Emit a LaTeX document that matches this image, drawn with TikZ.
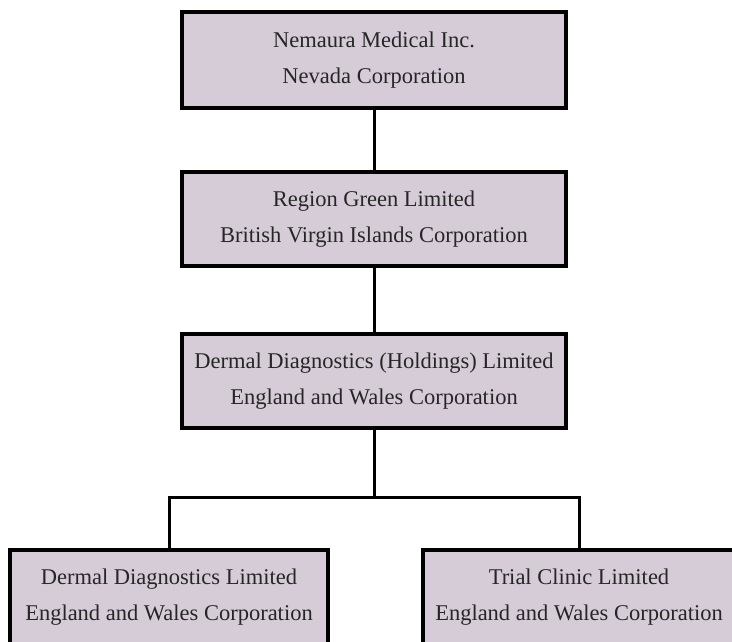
\documentclass[tikz,border=0pt]{standalone}
\usepackage{fontspec}
\setmainfont{Liberation Serif}
\definecolor{boxfill}{RGB}{214,204,216}
\begin{document}
\begin{tikzpicture}[x=1pt,y=-1pt,
  entity/.style={draw=black, line width=4pt, fill=boxfill, align=center,
    inner sep=0pt, font=\fontsize{22.5}{36}\selectfont, text=black!85},
  link/.style={draw=black, line width=3pt}]
\useasboundingbox (0,0) rectangle (732,642);
\clip (0,0) rectangle (732,642);
\node[entity, minimum width=384pt, minimum height=96pt] (n1) at (374,60)
  {Nemaura Medical Inc.\\Nevada Corporation};
\node[entity, minimum width=384pt, minimum height=94pt] (n2) at (374,219)
  {Region Green Limited\\British Virgin Islands Corporation};
\node[entity, minimum width=384pt, minimum height=94pt] (n3) at (374,381)
  {Dermal Diagnostics (Holdings) Limited\\England and Wales Corporation};
\node[entity, minimum width=318pt, minimum height=94pt] (n4) at (169,597)
  {Dermal Diagnostics Limited\\England and Wales Corporation};
\node[entity, minimum width=312pt, minimum height=94pt] (n5) at (579,597)
  {Trial Clinic Limited\\England and Wales Corporation};
\coordinate (bar) at (374,497);
\draw[link] (n1.south) -- (n2.north);
\draw[link] (n2.south) -- (n3.north);
\draw[link] (n3.south) -- (bar);
\draw[link] (n4.north) |- (bar) -| (n5.north);
\end{tikzpicture}
\end{document}
